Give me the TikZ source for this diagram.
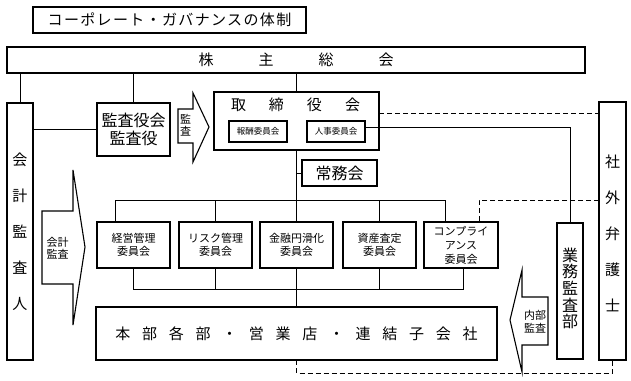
\documentclass[tikz,border=0pt]{standalone}
\usepackage{fontspec}
\setmainfont{Noto Sans CJK JP}
\begin{document}
\begin{tikzpicture}[x=1pt,y=-1pt,
  box/.style={draw, line width=1.2pt, inner sep=0pt, outer sep=0pt, rectangle},
  conn/.style={line width=1pt},
  dconn/.style={line width=1pt, dash pattern=on 5pt off 3pt},
  shape arrow/.style={draw, line width=1.1pt, line join=miter},
  lbl/.style={inner sep=0pt, align=center},
  bigtxt/.style={font=\fontsize{15}{18}\selectfont},
  vtxt/.style={align=center, font=\fontsize{15}{36}\selectfont},
  cmtxt/.style={align=center, font=\fontsize{11}{13.5}\selectfont},
  smtxt/.style={font=\fontsize{8.5}{10}\selectfont},
  arrtxt/.style={lbl, font=\fontsize{11}{12.5}\selectfont},
  cmbox/.style={box, minimum width=73pt, minimum height=46pt},
]
\useasboundingbox (0,0) rectangle (631,380);

% title
\node[box, minimum width=273pt, minimum height=26pt,
      font=\fontsize{15}{18}\selectfont\addfontfeature{LetterSpace=9}] (title) at (169.5,20) {コーポレート・ガバナンスの体制};

% shareholders
\node[box, minimum width=578pt, minimum height=26pt, bigtxt] (sh) at (296,60)
  {株\hspace{45pt}主\hspace{45pt}総\hspace{45pt}会};

% accounting auditor
\node[box, minimum width=26pt, minimum height=257pt, vtxt] (ka) at (20,231.5) {会\\計\\監\\査\\人};

% audit board
\node[box, minimum width=73pt, minimum height=53pt, align=center,
      font=\fontsize{16}{18}\selectfont] (kyb) at (133.5,129.5) {監査役会\\監査役};

% board of directors
\node[box, minimum width=165pt, minimum height=58pt] (tb) at (296.5,121) {};
\node[lbl, bigtxt] (tbt) at (295.5,105) {取\hspace{23pt}締\hspace{23pt}役\hspace{23pt}会};
\node[box, minimum width=58pt, minimum height=21pt, smtxt] (hoshu) at (258,131.5) {報酬委員会};
\node[box, minimum width=58pt, minimum height=21pt, smtxt] (jinji) at (336,131.5) {人事委員会};

% managing committee
\node[box, minimum width=75pt, minimum height=26pt, font=\fontsize{16}{18}\selectfont] (joumu) at (339.5,173) {常務会};

% committees
\node[cmbox, cmtxt] (c1) at (133.5,245) {経営管理\\委員会};
\node[cmbox, cmtxt] (c2) at (215.5,245) {リスク管理\\委員会};
\node[cmbox, cmtxt] (c3) at (296.5,245) {金融円滑化\\委員会};
\node[cmbox, cmtxt] (c4) at (379.5,245) {資産査定\\委員会};
\node[box, minimum width=74pt, minimum height=46pt, align=center,
      font=\fontsize{11}{14}\selectfont] (c5) at (461,245) {コンプライ\\アンス\\委員会};

% head office
\node[box, minimum width=401pt, minimum height=53pt, bigtxt] (honbu) at (296.5,333.5)
  {本\hspace{11.7pt}部\hspace{11.7pt}各\hspace{11.7pt}部\hspace{11.7pt}・\hspace{11.7pt}営\hspace{11.7pt}業\hspace{11.7pt}店\hspace{11.7pt}・\hspace{11.7pt}連\hspace{11.7pt}結\hspace{11.7pt}子\hspace{11.7pt}会\hspace{11.7pt}社};

% internal audit dept
\node[box, minimum width=26pt, minimum height=136pt] (gyomu) at (570,291) {};
\node[lbl, font=\fontsize{16}{16.7}\selectfont] (gyomut) at (570,288.5) {業\\務\\監\\査\\部};

% outside lawyer
\node[box, minimum width=27pt, minimum height=258pt] (shagai) at (612.5,231) {};
\node[lbl, vtxt] (shagait) at (612.5,233.5) {社\\外\\弁\\護\\士};

% block arrows
\draw[shape arrow] (178,109) -- (193,109) -- (193,93) -- (209,127) -- (193,162) -- (193,143) -- (178,143) -- cycle;
\node[arrtxt] (a1t) at (185.5,125) {監\\査};
\draw[shape arrow] (42,211) -- (73,211) -- (73,170) -- (85,247) -- (73,325) -- (73,284) -- (42,284) -- cycle;
\node[arrtxt] (a2t) at (57.5,248) {会計\\監査};
\draw[shape arrow] (548,297) -- (522,297) -- (522,270) -- (510,320) -- (522,372) -- (522,345) -- (548,345) -- cycle;
\node[arrtxt] (a3t) at (535,321.5) {内部\\監査};

% connectors
\draw[conn] (ka.north) -- (ka.north |- sh.south);
\draw[conn] (kyb.north) -- (kyb.north |- sh.south);
\draw[conn] (tb.north) -- (tb.north |- sh.south);
\draw[conn] (kyb.west) -- (kyb.west -| ka.east);
\draw[conn] (tb.south) -- (c3.north);
\draw[conn] (c3.south) -- (honbu.north);
\draw[conn] (joumu.west) -- (joumu.west -| tb.south);

\coordinate (tbL) at (115,200);
\coordinate (tbR) at (445,200);
\draw[conn] (tbL) -- (tbR);
\draw[conn] (tbL) -- (tbL |- c1.north);
\draw[conn] (c2.north) -- (c2.north |- tbL);
\draw[conn] (c4.north) -- (c4.north |- tbL);
\draw[conn] (tbR) -- (tbR |- c5.north);

\coordinate (bbR) at (463,289);
\draw[conn] (c1.south) |- (bbR) -- (bbR |- c5.south);
\draw[conn] (c2.south) -- (c2.south |- bbR);
\draw[conn] (c4.south) -- (c4.south |- bbR);

\draw[conn] ([yshift=4.5pt]jinji.east) -| (gyomu.north);

% dashed
\draw[dconn] ([yshift=8pt]tb.east) -- ([yshift=8pt]tb.east -| shagai.west);
\coordinate (dc) at (479,200);
\draw[dconn] (dc -| shagai.west) -- (dc) -- (dc |- c5.north);
\coordinate (db) at (297,373);
\draw[dconn] (honbu.south) -- (honbu.south |- db) -| (shagai.south);
\end{tikzpicture}
\end{document}
